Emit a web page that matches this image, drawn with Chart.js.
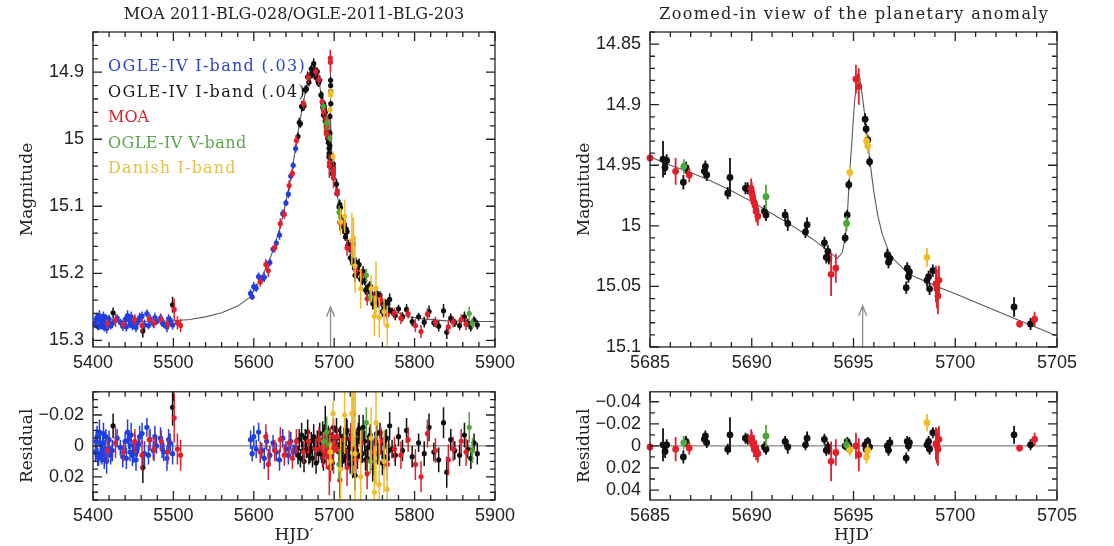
<!DOCTYPE html>
<html lang="en">
<head>
<meta charset="UTF-8">
<title>MOA 2011-BLG-028 / OGLE-2011-BLG-203</title>
<script src="https://cdn.jsdelivr.net/npm/chart.js"></script>
<style>
  body { margin: 0; background: #fff; }
  .page { position: relative; width: 1114px; height: 546px; overflow: hidden; }
  .page canvas { position: absolute; }
</style>
</head>
<body>
<div class="page">
  <canvas id="leftMain" width="520" height="385" style="left:0;top:0"></canvas>
  <canvas id="leftRes" width="520" height="174" style="left:0;top:372px"></canvas>
  <canvas id="rightMain" width="557" height="385" style="left:557px;top:0"></canvas>
  <canvas id="rightRes" width="557" height="174" style="left:557px;top:372px"></canvas>
</div>
<script>
// ---- photometry (HJD' = HJD - 2450000) ----

// OGLE-IV I-band, error scaling .03
const ogle03T = [5403, 5405, 5407, 5409, 5411, 5413, 5415, 5417, 5420, 5424, 5430, 5434, 5437, 5440, 5443,
  5446, 5449, 5452, 5455, 5458, 5464, 5467, 5471, 5475, 5479, 5484, 5488, 5492, 5496, 5499,
  5404, 5406, 5408, 5410, 5412, 5414, 5416, 5418.5, 5422, 5441.5, 5444.5, 5447.5, 5450.5, 5453.5, 5456.5, 5461, 5469, 5477, 5486, 5494,
  5596, 5598, 5600, 5603, 5606, 5610, 5613, 5616, 5620, 5624, 5628, 5632, 5636, 5640, 5643, 5646, 5649, 5652];
const ogle03Mag = [15.276, 15.266, 15.280, 15.270, 15.278, 15.264, 15.274, 15.282, 15.268, 15.275, 15.267, 15.273, 15.279, 15.269, 15.263,
  15.276, 15.278, 15.270, 15.274, 15.266, 15.277, 15.260, 15.268, 15.275, 15.272, 15.267, 15.276, 15.280, 15.270, 15.277,
  15.269, 15.279, 15.263, 15.277, 15.271, 15.281, 15.266, 15.275, 15.278, 15.280, 15.268, 15.265, 15.277, 15.281, 15.271, 15.264, 15.278, 15.266, 15.274, 15.268,
  15.230, 15.235, 15.220, 15.222, 15.205, 15.208, 15.206, 15.187, 15.184, 15.164, 15.155, 15.143, 15.111, 15.095, 15.082, 15.055, 15.039, 15.014];
const ogle03Err = [0.006, 0.007, 0.005, 0.008, 0.006, 0.007, 0.006, 0.008, 0.006, 0.007, 0.006, 0.005, 0.007, 0.006, 0.008,
  0.006, 0.007, 0.006, 0.005, 0.007, 0.008, 0.006, 0.007, 0.006, 0.005, 0.007, 0.006, 0.008, 0.006, 0.007,
  0.007, 0.006, 0.008, 0.006, 0.007, 0.006, 0.005, 0.007, 0.006, 0.007, 0.006, 0.008, 0.006, 0.007, 0.006, 0.007, 0.006, 0.007, 0.006, 0.007,
  0.006, 0.005, 0.007, 0.006, 0.006, 0.005, 0.007, 0.006, 0.006, 0.005, 0.006, 0.007, 0.006, 0.005, 0.006, 0.006, 0.005, 0.006];
const ogle03Res = [0.004, -0.006, 0.008, -0.002, 0.006, -0.008, 0.002, 0.010, -0.004, 0.003, -0.005, 0.001, 0.007, -0.003, -0.009,
  0.004, 0.006, -0.002, 0.002, -0.006, 0.005, -0.012, -0.004, 0.003, 0.000, -0.005, 0.004, 0.008, -0.002, 0.005,
  -0.003, 0.007, -0.009, 0.005, -0.001, 0.009, -0.006, 0.003, 0.006, 0.008, -0.004, -0.007, 0.005, 0.009, -0.001, -0.008, 0.006, -0.006, 0.002, -0.004,
  -0.004, 0.005, -0.006, 0.002, -0.009, 0.003, 0.008, -0.003, 0.006, -0.002, 0.004, 0.009, -0.005, 0.002, 0.006, -0.003, 0.004, 0.001];

// OGLE-IV I-band, error scaling .04
const ogle04T = [5425, 5462, 5499,
  5655, 5656.5, 5658, 5659.5, 5661, 5662.5, 5664, 5665.5, 5667, 5668.5, 5670, 5671.5, 5673, 5674.5, 5676, 5677.5, 5679, 5680.5, 5682, 5683.5,
  5685.64, 5685.74, 5685.82, 5686.64, 5686.77, 5687.67, 5687.72, 5687.79, 5688.82, 5688.93, 5689.69, 5689.80, 5690.62, 5690.70,
  5691.64, 5691.77, 5692.64, 5692.72, 5693.57, 5693.66, 5693.74, 5693.79, 5694.59, 5694.69, 5694.77, 5695.57, 5695.62, 5695.70,
  5695.79, 5696.66, 5696.72, 5696.79, 5697.59, 5697.64, 5697.70, 5697.75, 5698.61, 5698.69, 5698.74, 5698.90, 5702.89, 5703.70,
  5706, 5708, 5710, 5712, 5714, 5716, 5718, 5720, 5722, 5724, 5726, 5728, 5730, 5733, 5736, 5739, 5742, 5745, 5748, 5751,
  5754, 5757, 5760, 5763, 5766, 5769, 5772, 5776, 5780, 5785, 5790, 5797, 5805, 5812, 5818, 5824, 5830, 5836, 5840, 5845,
  5850, 5856, 5862, 5866, 5870, 5874, 5878,
  5707, 5709, 5711, 5713, 5715, 5717, 5719, 5721, 5723, 5725, 5727, 5729, 5731, 5735, 5738, 5741, 5744, 5747, 5750, 5753,
  5756, 5759, 5762, 5765, 5768];
const ogle04Mag = [15.259, 15.286, 15.247,
  14.996, 14.975, 14.977, 14.951, 14.952, 14.950, 14.926, 14.925, 14.907, 14.915, 14.906, 14.895, 14.903, 14.887, 14.896, 14.908, 14.899, 14.916, 14.912, 14.934,
  14.945, 14.952, 14.946, 14.964, 14.952, 14.955, 14.951, 14.958, 14.973, 14.960, 14.969, 14.969, 14.988, 14.991,
  14.991, 14.998, 15.005, 14.999, 15.014, 15.026, 15.021, 15.027, 15.010, 14.991, 14.966, 14.912, 14.920, 14.929,
  14.947, 15.024, 15.030, 15.027, 15.051, 15.035, 15.042, 15.038, 15.045, 15.042, 15.052, 15.037, 15.067, 15.081,
  15.101, 15.102, 15.129, 15.127, 15.146, 15.138, 15.158, 15.177, 15.166, 15.156, 15.203, 15.193, 15.188, 15.209, 15.197, 15.225, 15.222, 15.219, 15.245, 15.232,
  15.244, 15.233, 15.257, 15.244, 15.258, 15.239, 15.257, 15.263, 15.253, 15.265, 15.254, 15.272, 15.265, 15.273, 15.257, 15.274, 15.279, 15.256, 15.288, 15.267,
  15.274, 15.278, 15.265, 15.274, 15.280, 15.270, 15.277,
  15.097, 15.121, 15.122, 15.138, 15.134, 15.158, 15.162, 15.161, 15.185, 15.184, 15.183, 15.200, 15.187, 15.212, 15.211, 15.228, 15.218, 15.231, 15.244, 15.230,
  15.245, 15.243, 15.254, 15.245, 15.254];
const ogle04Err = [0.008, 0.010, 0.012,
  0.006, 0.007, 0.006, 0.008, 0.006, 0.007, 0.006, 0.006, 0.008, 0.006, 0.007, 0.006, 0.006, 0.008, 0.006, 0.007, 0.006, 0.006, 0.007, 0.006,
  0.015, 0.006, 0.005, 0.006, 0.005, 0.005, 0.005, 0.005, 0.005, 0.016, 0.005, 0.005, 0.005, 0.005,
  0.005, 0.006, 0.005, 0.006, 0.005, 0.005, 0.005, 0.005, 0.004, 0.004, 0.004, 0.005, 0.004, 0.004,
  0.004, 0.005, 0.005, 0.005, 0.005, 0.005, 0.005, 0.005, 0.005, 0.005, 0.005, 0.005, 0.008, 0.005,
  0.006, 0.007, 0.006, 0.008, 0.006, 0.007, 0.008, 0.006, 0.007, 0.010, 0.010, 0.006, 0.007, 0.006, 0.008, 0.007, 0.006, 0.007, 0.009, 0.006,
  0.007, 0.006, 0.008, 0.006, 0.007, 0.009, 0.006, 0.007, 0.006, 0.007, 0.008, 0.007, 0.006, 0.008, 0.009, 0.006, 0.008, 0.010, 0.010, 0.007,
  0.006, 0.007, 0.008, 0.006, 0.007, 0.006, 0.007,
  0.007, 0.008, 0.006, 0.007, 0.009, 0.006, 0.007, 0.008, 0.010, 0.006, 0.007, 0.008, 0.009, 0.006, 0.007, 0.008, 0.006, 0.007, 0.009, 0.008,
  0.006, 0.007, 0.008, 0.006, 0.007];
const ogle04Res = [-0.013, 0.014, -0.025,
  0.006, -0.004, 0.008, -0.007, 0.003, 0.010, -0.005, 0.002, -0.009, 0.006, 0.004, -0.003, 0.008, -0.006, 0.001, 0.011, -0.004, 0.005, -0.008, 0.003,
  -0.001, 0.005, -0.001, 0.010, -0.004, -0.006, -0.009, -0.003, 0.003, -0.010, -0.007, -0.006, 0.001, 0.003,
  -0.004, 0.001, -0.001, -0.007, -0.006, 0.004, 0.001, 0.003, 0.000, -0.004, -0.001, -0.001, 0.003, -0.004,
  0.001, 0.000, 0.004, -0.003, 0.011, -0.004, 0.000, -0.003, -0.001, -0.004, 0.003, -0.012, -0.010, -0.001,
  0.004, -0.006, 0.010, -0.003, 0.007, -0.010, 0.002, 0.012, -0.005, -0.021, 0.019, 0.003, -0.008, 0.006, -0.012, 0.009, 0.001, -0.007, 0.014, -0.003,
  0.005, -0.009, 0.011, -0.004, 0.008, -0.013, 0.002, 0.006, -0.006, 0.003, -0.010, 0.007, -0.002, 0.005, -0.012, 0.004, 0.009, -0.015, 0.017, -0.004,
  0.003, 0.006, -0.007, 0.002, 0.008, -0.002, 0.005,
  -0.005, 0.008, -0.002, 0.004, -0.009, 0.006, 0.001, -0.007, 0.011, 0.003, -0.004, 0.007, -0.011, 0.005, -0.003, 0.008, -0.006, 0.002, 0.010, -0.008,
  0.004, -0.002, 0.007, -0.005, 0.003];

// MOA
const moaT = [5418, 5428, 5438, 5452, 5461, 5470, 5476, 5485, 5493, 5501, 5505, 5509,
  5608, 5615, 5618, 5626, 5633, 5638, 5644, 5648, 5653,
  5662, 5668, 5677, 5681,
  5685.00, 5686.26, 5686.93, 5689.97, 5690.00, 5690.05, 5690.10, 5690.15, 5690.22, 5690.30,
  5693.90, 5694.13, 5695.12, 5695.26, 5699.05, 5699.10, 5699.15, 5699.20, 5703.16, 5703.90,
  5707, 5712, 5716, 5721, 5727, 5734, 5741, 5749, 5758, 5766, 5775, 5783, 5792, 5801, 5808, 5816, 5826, 5842, 5848, 5858, 5864];
const moaMag = [15.275, 15.270, 15.276, 15.269, 15.278, 15.268, 15.274, 15.269, 15.276, 15.254, 15.274, 15.278,
  15.213, 15.187, 15.196, 15.162, 15.126, 15.112, 15.069, 15.051, 15.002,
  14.947, 14.908, 14.899, 14.911,
  14.944, 14.955, 14.958, 14.969, 14.973, 14.977, 14.980, 14.982, 14.988, 14.992,
  15.040, 15.035, 14.879, 14.885, 15.048, 15.052, 15.058, 15.045, 15.081, 15.077,
  15.124, 15.126, 15.162, 15.163, 15.196, 15.203, 15.238, 15.236, 15.240, 15.262, 15.259, 15.267, 15.260, 15.278, 15.287, 15.261, 15.273, 15.280, 15.273, 15.269, 15.276];
const moaErr = [0.008, 0.010, 0.006, 0.008, 0.010, 0.006, 0.008, 0.007, 0.008, 0.016, 0.010, 0.010,
  0.007, 0.008, 0.010, 0.007, 0.008, 0.007, 0.008, 0.007, 0.008,
  0.007, 0.008, 0.007, 0.008,
  0.003, 0.011, 0.006, 0.008, 0.009, 0.008, 0.010, 0.008, 0.009, 0.008,
  0.018, 0.012, 0.012, 0.015, 0.015, 0.016, 0.015, 0.012, 0.003, 0.006,
  0.012, 0.008, 0.012, 0.008, 0.009, 0.008, 0.010, 0.008, 0.009, 0.010, 0.008, 0.009, 0.008, 0.010, 0.010, 0.009, 0.008, 0.010, 0.008, 0.008, 0.009];
const moaRes = [0.003, -0.002, 0.004, -0.003, 0.006, -0.004, 0.002, -0.003, 0.004, -0.018, 0.002, 0.006,
  0.004, -0.006, 0.012, 0.003, -0.004, 0.006, -0.002, 0.008, -0.003,
  0.004, -0.003, 0.002, -0.004,
  0.001, 0.003, 0.002, -0.007, -0.004, -0.002, 0.000, 0.002, 0.004, 0.007,
  0.014, 0.006, 0.000, 0.008, -0.002, 0.000, 0.003, -0.006, 0.002, -0.006,
  0.022, -0.004, 0.014, -0.005, 0.009, -0.002, 0.018, 0.004, -0.003, 0.012, 0.002, 0.006, -0.004, 0.012, 0.020, -0.008, 0.003, 0.009, 0.002, -0.003, 0.004];

// OGLE-IV V-band
const ogleVT = [5686.66, 5690.70, 5694.66, 5706, 5740, 5745, 5868, 5872];
const ogleVMag = [14.951, 14.976, 14.998, 15.109, 15.203, 15.236, 15.260, 15.275];
const ogleVErr = [0.006, 0.010, 0.006, 0.010, 0.010, 0.008, 0.010, 0.008];
const ogleVRes = [-0.003, -0.009, -0.001, 0.012, -0.015, 0.010, -0.012, 0.003];

// Danish I-band
const danishT = [5694.82, 5695.64, 5695.70, 5698.61, 5708, 5713, 5722, 5724, 5726, 5733, 5746, 5750, 5752, 5756, 5762, 5766];
const danishMag = [14.956, 14.930, 14.934, 15.026, 15.123, 15.115, 15.150, 15.147, 15.189, 15.223, 15.223, 15.264, 15.222, 15.266, 15.257, 15.278];
const danishErr = [0.005, 0.006, 0.006, 0.008, 0.020, 0.025, 0.040, 0.030, 0.040, 0.030, 0.020, 0.030, 0.040, 0.030, 0.020, 0.030];
const danishRes = [0.004, 0.010, 0.004, -0.021, 0.015, -0.020, -0.021, -0.030, 0.005, 0.020, -0.005, 0.030, -0.015, 0.025, 0.010, 0.028];

// best-fit planetary model
const modelT = [5400, 5450, 5500, 5520, 5540, 5560, 5580, 5595, 5605, 5615, 5625, 5635, 5645, 5650, 5655, 5660, 5665, 5670,
  5674, 5678, 5682, 5685, 5686, 5687, 5688, 5689, 5690, 5691, 5692, 5693, 5693.7, 5694.2, 5694.45, 5694.6, 5694.7, 5694.8,
  5694.9, 5695.05, 5695.2, 5695.3, 5695.45, 5695.6, 5695.7, 5695.8, 5696.0, 5696.2, 5696.4, 5696.7, 5697, 5697.6, 5698,
  5698.7, 5699.1, 5700, 5702, 5703, 5704, 5705, 5712, 5720, 5730, 5740, 5750, 5760, 5775, 5790, 5810, 5840, 5880, 5900];
const modelMag = [15.272, 15.272, 15.271, 15.269, 15.265, 15.259, 15.249, 15.236, 15.216, 15.193, 15.163, 15.121, 15.065, 15.028, 14.990, 14.955, 14.925, 14.902,
  14.893, 14.898, 14.920, 14.943, 14.950, 14.956, 14.963, 14.971, 14.980, 14.990, 15.000, 15.011, 15.020, 15.027, 15.022, 15.009, 14.990, 14.960,
  14.935, 14.898, 14.875, 14.877, 14.895, 14.915, 14.929, 14.946, 14.972, 14.992, 15.006, 15.020, 15.028, 15.038, 15.042,
  15.047, 15.050, 15.056, 15.070, 15.077, 15.084, 15.091, 15.130, 15.165, 15.196, 15.218, 15.234, 15.246, 15.257, 15.264, 15.268, 15.271, 15.272, 15.272];

// anomaly marker
const anomalyT = 5695.45;

// axis ticks
const wideDayTicks = [5400, 5500, 5600, 5700, 5800, 5900];
const zoomDayTicks = [5685, 5690, 5695, 5700, 5705];
const wideMagTicks = [14.9, 15, 15.1, 15.2, 15.3];
const zoomMagTicks = [14.85, 14.9, 14.95, 15, 15.05, 15.1];
const wideResTicks = [-0.02, 0, 0.02];
const zoomResTicks = [-0.04, -0.02, 0, 0.02, 0.04];

// drawn bottom-most last: Chart.js paints dataset 0 on top
const series = [
  { label: 'Danish I-band', color: '#f1bc2c', text: '#e8bf47', t: danishT, mag: danishMag, err: danishErr, res: danishRes },
  { label: 'OGLE-IV V-band', color: '#4fa63b', text: '#5ca64c', t: ogleVT, mag: ogleVMag, err: ogleVErr, res: ogleVRes },
  { label: 'MOA', color: '#e2202c', text: '#d8242d', t: moaT, mag: moaMag, err: moaErr, res: moaRes },
  { label: 'OGLE-IV I-band (.04)', color: '#111111', text: '#1a1a1a', t: ogle04T, mag: ogle04Mag, err: ogle04Err, res: ogle04Res },
  { label: 'OGLE-IV I-band (.03)', color: '#1f3fe0', text: '#2c47c9', t: ogle03T, mag: ogle03Mag, err: ogle03Err, res: ogle03Res }
];

const INK = '#222';
const tickFont = { family: '"Liberation Sans", Arial, sans-serif', size: 18 };
const textFont = '16px "DejaVu Serif", serif';
const axisFont = '17px "DejaVu Serif", serif';

// spread the glyphs out to a fixed advance, never squeeze them
function spaced(ctx, text, x, y, perChar) {
  ctx.letterSpacing = '0px';
  const natural = ctx.measureText(text).width;
  const extra = Math.max(0, (perChar * text.length - natural) / text.length);
  ctx.letterSpacing = extra.toFixed(2) + 'px';
  const shift = ctx.textAlign === 'center' ? extra / 2 : 0;
  ctx.fillText(text, x + shift, y);
  ctx.letterSpacing = '0px';
}

const errorBars = {
  id: 'errorBars',
  beforeDatasetDraw(chart, args) {
    const ds = chart.data.datasets[args.index];
    if (!ds.errColor) return;
    const { ctx, chartArea: a } = chart;
    const y = chart.scales.y;
    ctx.save();
    ctx.beginPath();
    ctx.rect(a.left, a.top, a.right - a.left, a.bottom - a.top);
    ctx.clip();
    ctx.strokeStyle = ds.errColor;
    ctx.lineWidth = ds.errWidth;
    ctx.beginPath();
    args.meta.data.forEach((pt, i) => {
      const d = ds.data[i];
      ctx.moveTo(pt.x, y.getPixelForValue(d.y - d.e));
      ctx.lineTo(pt.x, y.getPixelForValue(d.y + d.e));
    });
    ctx.stroke();
    ctx.restore();
  }
};

function tickMarks(ctx, scale, a, step, len, horizontal) {
  const first = Math.ceil(scale.min / step - 1e-6);
  const last = Math.floor(scale.max / step + 1e-6);
  for (let k = first; k <= last; k++) {
    const p = scale.getPixelForValue(k * step);
    if (horizontal) {
      ctx.moveTo(p, a.bottom); ctx.lineTo(p, a.bottom - len);
      ctx.moveTo(p, a.top); ctx.lineTo(p, a.top + len);
    } else {
      ctx.moveTo(a.left, p); ctx.lineTo(a.left + len, p);
      ctx.moveTo(a.right, p); ctx.lineTo(a.right - len, p);
    }
  }
}

const panelFrame = {
  id: 'panelFrame',
  beforeDatasetsDraw(chart, args, o) {
    const { ctx, chartArea: a, scales: { x, y } } = chart;
    ctx.save();
    if (o.zeroLine) {
      const py = y.getPixelForValue(0);
      ctx.strokeStyle = '#666';
      ctx.lineWidth = 1;
      ctx.beginPath();
      ctx.moveTo(a.left, py);
      ctx.lineTo(a.right, py);
      ctx.stroke();
    }
    if (o.arrowTip != null) {
      const ax = x.getPixelForValue(anomalyT);
      const top = y.getPixelForValue(o.arrowTip);
      ctx.strokeStyle = '#8c8c8c';
      ctx.lineWidth = 1.3;
      ctx.beginPath();
      ctx.moveTo(ax, a.bottom);
      ctx.lineTo(ax, top);
      ctx.moveTo(ax - 4, top + 10);
      ctx.lineTo(ax, top);
      ctx.lineTo(ax + 4, top + 10);
      ctx.stroke();
    }
    ctx.restore();
  },
  afterDraw(chart, args, o) {
    const { ctx, chartArea: a, scales: { x, y } } = chart;
    ctx.save();
    ctx.strokeStyle = INK;
    ctx.lineWidth = 1.3;
    ctx.strokeRect(a.left, a.top, a.right - a.left, a.bottom - a.top);
    ctx.beginPath();
    tickMarks(ctx, x, a, o.xStep, 9, true);
    tickMarks(ctx, x, a, o.xMinor, 5, true);
    tickMarks(ctx, y, a, o.yStep, 9, false);
    tickMarks(ctx, y, a, o.yMinor, 5, false);
    ctx.stroke();
    ctx.restore();
  }
};

const panelText = {
  id: 'panelText',
  afterDraw(chart, args, o) {
    const { ctx, chartArea: a } = chart;
    const cx = (a.left + a.right) / 2;
    ctx.save();
    ctx.fillStyle = INK;
    ctx.textBaseline = 'middle';
    ctx.textAlign = 'center';
    ctx.font = textFont;
    if (o.title) spaced(ctx, o.title, cx, a.top - 17, 10);
    ctx.font = axisFont;
    if (o.xTitle) ctx.fillText(o.xTitle, cx, a.bottom + 36);
    if (o.yTitle) {
      ctx.save();
      ctx.translate(28, (a.top + a.bottom) / 2);
      ctx.rotate(-Math.PI / 2);
      ctx.fillText(o.yTitle, 0, 0);
      ctx.restore();
    }
    if (o.legend) {
      ctx.font = textFont;
      ctx.textAlign = 'left';
      series.slice().reverse().forEach((s, i) => {
        ctx.fillStyle = s.text;
        spaced(ctx, s.label, a.left + 15, a.top + 35 + i * 25.5, 9.9);
      });
    }
    ctx.restore();
  }
};

Chart.register(errorBars, panelFrame, panelText);

function magLabel(v) {
  return String(parseFloat(v.toFixed(3)));
}
function resLabel(v) {
  if (Math.abs(v) < 1e-9) return '0';
  const s = String(parseFloat(Math.abs(v).toFixed(3)));
  return v < 0 ? '\u2212' + s : s;
}

function makePanel(id, p) {
  const datasets = series.map(s => {
    const data = [];
    s.t.forEach((t, i) => {
      if (t >= p.xMin && t <= p.xMax) {
        data.push({ x: t, y: p.residual ? s.res[i] : s.mag[i], e: s.err[i] });
      }
    });
    return {
      label: s.label, data,
      backgroundColor: s.color, borderColor: s.color,
      pointRadius: p.radius, pointBorderWidth: 0,
      errColor: s.color, errWidth: p.errWidth,
      clip: 6
    };
  });
  if (!p.residual) {
    datasets.push({
      label: 'model',
      data: modelT.map((t, i) => ({ x: t, y: modelMag[i] })),
      showLine: true, borderColor: '#5a5a5a', borderWidth: 1.1, pointRadius: 0, tension: 0, clip: 0
    });
  }

  return new Chart(document.getElementById(id), {
    type: 'scatter',
    data: { datasets },
    options: {
      responsive: false,
      animation: false,
      events: [],
      layout: { padding: { top: p.padTop, right: p.padRight, left: 0, bottom: 0 } },
      scales: {
        x: {
          type: 'linear', min: p.xMin, max: p.xMax,
          grid: { display: false, drawTicks: false }, border: { display: false },
          ticks: { font: tickFont, color: INK, padding: 5, autoSkip: false, maxRotation: 0, callback: v => String(v) },
          afterBuildTicks: s => { s.min = p.xMin; s.max = p.xMax; s.ticks = p.xTicks.map(v => ({ value: v })); },
          afterFit: s => { s.height = p.xHeight; }
        },
        y: {
          type: 'linear', reverse: true, min: p.yMin, max: p.yMax,
          grid: { display: false, drawTicks: false }, border: { display: false },
          ticks: { font: tickFont, color: INK, padding: 9, autoSkip: false, callback: p.residual ? resLabel : magLabel },
          afterBuildTicks: s => { s.min = p.yMin; s.max = p.yMax; s.ticks = p.yTicks.map(v => ({ value: v })); },
          afterFit: s => { s.width = 93; }
        }
      },
      plugins: {
        legend: { display: false },
        tooltip: { enabled: false },
        panelFrame: { xStep: p.xStep, xMinor: p.xMinor, yStep: p.yStep, yMinor: p.yMinor, zeroLine: p.residual, arrowTip: p.arrowTip },
        panelText: { title: p.title, xTitle: p.xTitle, yTitle: p.yTitle, legend: p.legend }
      }
    }
  });
}

const wide = { xMin: 5400, xMax: 5900, xTicks: wideDayTicks, xStep: 100, xMinor: 20, padRight: 23, radius: 2.6, errWidth: 1.5 };
const zoom = { xMin: 5685, xMax: 5705, xTicks: zoomDayTicks, xStep: 5, xMinor: 1, padRight: 57, radius: 3.4, errWidth: 1.8 };

makePanel('leftMain', Object.assign({}, wide, {
  yMin: 14.84, yMax: 15.31, yTicks: wideMagTicks, yStep: 0.1, yMinor: 0.02,
  padTop: 32, xHeight: 38, residual: false, arrowTip: 15.25,
  title: 'MOA 2011-BLG-028/OGLE-2011-BLG-203', yTitle: 'Magnitude', legend: true
}));
makePanel('leftRes', Object.assign({}, wide, {
  yMin: -0.035, yMax: 0.035, yTicks: wideResTicks, yStep: 0.02, yMinor: 0.005,
  padTop: 11, xHeight: 46, residual: true, yTitle: 'Residual', xTitle: 'HJD\u2032'
}));
makePanel('rightMain', Object.assign({}, zoom, {
  yMin: 14.84, yMax: 15.1, yTicks: zoomMagTicks, yStep: 0.05, yMinor: 0.01,
  padTop: 32, xHeight: 38, residual: false, arrowTip: 15.066,
  title: 'Zoomed-in view of the planetary anomaly', yTitle: 'Magnitude'
}));
makePanel('rightRes', Object.assign({}, zoom, {
  yMin: -0.049, yMax: 0.049, yTicks: zoomResTicks, yStep: 0.02, yMinor: 0.01,
  padTop: 11, xHeight: 46, residual: true, yTitle: 'Residual', xTitle: 'HJD\u2032'
}));
</script>
</body>
</html>
